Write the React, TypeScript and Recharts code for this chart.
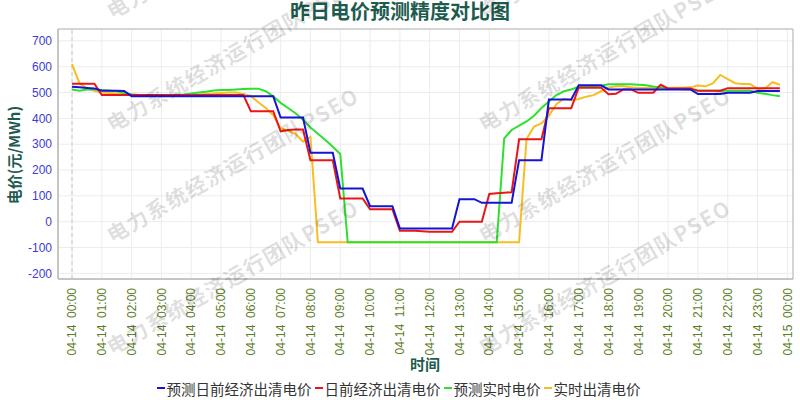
import React from 'react';
import {
  LineChart,
  Line,
  XAxis,
  YAxis,
  CartesianGrid,
  ReferenceLine,
  ReferenceArea,
} from 'recharts';

// 15 分钟一个点，00:00 ~ 23:45，共 96 点
const predDayAhead = [
  522, 520, 518, 516, 507, 507, 507, 506,
  486, 486, 486, 486, 486, 486, 486, 486, 486, 486, 486, 486,
  486, 486, 486, 486, 486, 486, 486, 486,
  403, 403, 403, 403,
  267, 267, 267, 267,
  128, 128, 128, 128,
  60, 60, 60, 60,
  -26, -26, -26, -26, -26, -26, -26, -26,
  87, 87, 87,
  73, 73, 73, 73, 73,
  238, 238, 238, 238,
  473, 473, 473, 473,
  528, 528, 528, 528,
  512, 512, 512, 512, 512, 512, 512, 512, 512, 512, 512, 512,
  494, 494, 494, 494,
  499, 499, 499, 499,
  506, 506, 506, 506,
];

const dayAhead = [
  534, 534, 534, 534,
  490, 490, 490, 490, 490, 490, 490, 490, 490, 490, 490, 490,
  490, 490, 490, 490, 490, 490, 490, 490,
  428, 428, 428, 428,
  350, 355, 357, 357,
  238, 238, 238, 238,
  90, 90, 90, 90,
  48, 48, 48, 48,
  -35, -35, -35, -37,
  -39, -39, -39, -39,
  0, 0, 0, 0,
  107, 110, 112, 114,
  319, 319, 319, 319,
  439, 439, 439, 439,
  519, 519, 519, 519,
  493, 495, 512, 512,
  499, 499, 499, 530,
  516, 516, 516, 516,
  507, 507, 507, 507,
  517, 517, 517, 517, 517, 517, 517, 517,
];

const predRealTime = [
  512, 507, 512, 513, 510, 508, 505, 498,
  492, 490, 490, 490, 490, 490, 491, 492,
  496, 500, 503, 508, 510, 510, 512, 514,
  515, 515, 505, 485, 460, 440, 420, 395,
  365, 340, 316, 290, 262,
  -80, -80, -80, -80, -80, -80, -80, -80, -80, -80, -80,
  -80, -80, -80, -80, -80, -80, -80, -80, -80, -80,
  322, 355, 372, 388, 410, 440,
  465, 490, 505, 512, 522, 524, 525, 526,
  532, 532, 532, 532, 530, 528, 523, 520,
  515, 514, 513, 512,
  507, 507, 507, 507, 507, 507, 507, 507,
  499, 495, 490, 486,
];

const realTime = [
  610, 536, 516, 507, 500, 498, 496, 494,
  492, 490, 490, 490, 490, 490, 490, 490,
  490, 492, 494, 496, 498, 500, 500, 494,
  487, 462, 440, 413, 362, 352, 340, 310, 328,
  -80, -80, -80, -80, -80, -80, -80, -80, -80, -80, -80, -80, -80, -80,
  -80, -80, -80, -80, -80, -80, -80, -80, -80, -80, -80, -80, -80, -80,
  320, 368, 380, 410, 455, 476, 470,
  475, 484, 490, 505, 519, 524, 524, 520,
  518, 518, 518, 518, 518, 519, 519, 520,
  527, 524, 535, 568, 552, 536, 533, 533,
  514, 516, 540, 530,
];

const xTickLabels = [
  '04-14  00:00', '04-14  01:00', '04-14  02:00', '04-14  03:00', '04-14  04:00',
  '04-14  05:00', '04-14  06:00', '04-14  07:00', '04-14  08:00', '04-14  09:00',
  '04-14  10:00', '04-14  11:00', '04-14  12:00', '04-14  13:00', '04-14  14:00',
  '04-14  15:00', '04-14  16:00', '04-14  17:00', '04-14  18:00', '04-14  19:00',
  '04-14  20:00', '04-14  21:00', '04-14  22:00', '04-14  23:00', '04-15  00:00',
];
const xTicks = xTickLabels.map((_, i) => i);
const yTicks = [-200, -100, 0, 100, 200, 300, 400, 500, 600, 700];

const seriesNames = ['预测日前经济出清电价', '日前经济出清电价', '预测实时电价', '实时出清电价'];
const seriesColors = ['#1414d4', '#e81717', '#2ee02e', '#f7bd22'];

const xDomain: [number, number] = [-0.47, 24.19];
const yDomain: [number, number] = [-222, 746];

const data = predDayAhead.map((v, i) => ({
  h: i / 4,
  predDA: v,
  da: dayAhead[i],
  predRT: predRealTime[i],
  rt: realTime[i],
}));

const TEAL = '#1d5b4f';
const CJK = '"Noto Sans CJK SC", "Noto Sans", sans-serif';
const LATIN = '"Liberation Sans", Arial, sans-serif';

const watermarkRows = [12, 125, 236, 348];
const watermarkCols = [108, 480];

function XTick(props: any) {
  const { x, y, payload } = props;
  return (
    <g transform={`translate(${x},${y + 1})`}>
      <text
        transform="rotate(-90)"
        textAnchor="end"
        dy="0.35em"
        fill="#5b7d26"
        fontSize={12}
        fontFamily={LATIN}
        style={{ whiteSpace: 'pre' }}
      >
        {xTickLabels[payload.value]}
      </text>
    </g>
  );
}

export default function App() {
  return (
    <div
      style={{
        position: 'absolute',
        left: 0,
        top: 0,
        width: 800,
        height: 400,
        background: '#fff',
        overflow: 'hidden',
        fontFamily: CJK,
      }}
    >
      <LineChart
        width={800}
        height={400}
        data={data}
        margin={{ top: 29, right: 7, bottom: 0, left: 8 }}
      >
        <CartesianGrid stroke="#ececec" />
        <XAxis
          dataKey="h"
          type="number"
          domain={xDomain}
          ticks={xTicks}
          allowDataOverflow
          height={121}
          tickLine={false}
          axisLine={{ stroke: '#b5b5b5' }}
          tick={<XTick />}
          interval={0}
        />
        <YAxis
          type="number"
          domain={yDomain}
          ticks={yTicks}
          allowDataOverflow
          width={50}
          tickLine={false}
          tickSize={4}
          tickMargin={2}
          axisLine={{ stroke: '#b5b5b5' }}
          tick={{ fill: '#3b3bd8', fontSize: 12, fontFamily: LATIN }}
        />
        <ReferenceArea
          x1={xDomain[0]}
          x2={xDomain[1]}
          y1={yDomain[0]}
          y2={yDomain[1]}
          fill="none"
          stroke="#b5b5b5"
        />
        <ReferenceLine x={0} stroke="#c8c8c8" strokeDasharray="4 3" />
        <Line dataKey="rt" stroke={seriesColors[3]} strokeWidth={2} dot={false} isAnimationActive={false} />
        <Line dataKey="predRT" stroke={seriesColors[2]} strokeWidth={2} dot={false} isAnimationActive={false} />
        <Line dataKey="da" stroke={seriesColors[1]} strokeWidth={2} dot={false} isAnimationActive={false} />
        <Line dataKey="predDA" stroke={seriesColors[0]} strokeWidth={2} dot={false} isAnimationActive={false} />
      </LineChart>

      {/* 标题 */}
      <div
        style={{
          position: 'absolute',
          left: 0,
          top: 0,
          width: 800,
          textAlign: 'center',
          fontSize: 20,
          lineHeight: '22px',
          fontWeight: 'bold',
          color: TEAL,
        }}
      >
        昨日电价预测精度对比图
      </div>

      {/* Y 轴名称 */}
      <div
        style={{
          position: 'absolute',
          left: 14 - 100,
          top: 155 - 10,
          width: 200,
          height: 20,
          lineHeight: '20px',
          textAlign: 'center',
          transform: 'rotate(-90deg)',
          fontSize: 15,
          fontWeight: 'bold',
          color: TEAL,
        }}
      >
        电价(元/MWh)
      </div>

      {/* X 轴名称 */}
      <div
        style={{
          position: 'absolute',
          left: 425 - 50,
          top: 354,
          width: 100,
          lineHeight: '20px',
          textAlign: 'center',
          fontSize: 15,
          fontWeight: 'bold',
          color: TEAL,
        }}
      >
        时间
      </div>

      {/* 图例 */}
      <div
        style={{
          position: 'absolute',
          left: 0,
          top: 378,
          width: 800,
          height: 20,
          display: 'flex',
          justifyContent: 'center',
          alignItems: 'center',
          fontSize: 14.5,
          color: '#333',
        }}
      >
        {seriesNames.map((name, i) => (
          <div key={name} style={{ display: 'flex', alignItems: 'center', marginRight: 3 }}>
            <span style={{ display: 'inline-block', width: 8, height: 2.5, background: seriesColors[i], marginRight: 2 }} />
            <span>{name}</span>
          </div>
        ))}
      </div>

      {/* 水印 */}
      {watermarkRows.map((top) =>
        watermarkCols.map((left) => (
          <div
            key={`${left}-${top}`}
            style={{
              position: 'absolute',
              left,
              top: top - 12,
              height: 24,
              lineHeight: '24px',
              whiteSpace: 'nowrap',
              transformOrigin: '0 50%',
              transform: 'rotate(-30deg)',
              fontSize: 21,
              fontWeight: 'bold',
              letterSpacing: 1.5,
              color: 'rgba(0,0,0,0.14)',
              pointerEvents: 'none',
            }}
          >
            电力系统经济运行团队PSEO
          </div>
        )),
      )}
    </div>
  );
}
